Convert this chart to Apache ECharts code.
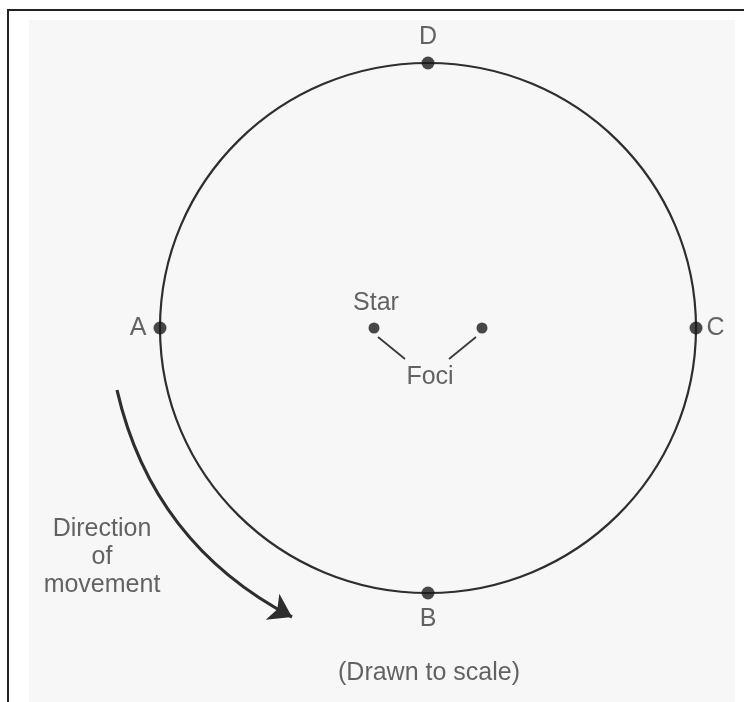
<!DOCTYPE html>
<html>
<head>
<meta charset="utf-8">
<script src="https://cdn.jsdelivr.net/npm/echarts@6/dist/echarts.min.js"></script>
<style>
html,body{margin:0;padding:0;background:#fff;}
#chart{width:744px;height:702px;}
</style>
</head>
<body>
<div id="chart"></div>
<script>
// ---- data (units: drawing units, orbit centre at origin) ----
const orbitCenter = [0, 0];
const orbitSemiAxes = [268, 265];
const pointNames = ['A', 'B', 'C', 'D'];
const pointXY = [[-268, 0], [0, -265], [268, 0], [0, 265]];
const fociXY = [[-54, 0], [54, 0]];
const fociLeaders = [
  [[-50, -9], [-23, -31]],
  [[48, -9], [21, -31]]
];
const arrowPath = [[-311, -62], [-136, -289]];
const textLabels = ['Star', 'Foci', 'Direction\nof\nmovement', '(Drawn to scale)'];
const textXY = [[-52, 25], [2, -49], [-326, -229], [1, -345]];

const labelPos = { A: 'left', B: 'bottom', C: 'right', D: 'top' };
const FONT = "'Liberation Sans', Arial, Helvetica, sans-serif";
const TXT = '#3c3c3c';
const FS = 25;

const chart = echarts.init(document.getElementById('chart'), null, { renderer: 'canvas' });

chart.setOption({
  animation: false,
  backgroundColor: '#ffffff',
  graphic: [
    { type: 'rect', z: -10, shape: { x: 29, y: 20, width: 706, height: 682 }, style: { fill: '#f7f7f7' } },
    { type: 'line', z: -5, shape: { x1: 7, y1: 10, x2: 744, y2: 10 }, style: { stroke: '#222', lineWidth: 2 } },
    { type: 'line', z: -5, shape: { x1: 8, y1: 9, x2: 8, y2: 702 }, style: { stroke: '#222', lineWidth: 2 } }
  ],
  grid: { left: 0, top: 0, width: 744, height: 702, show: false },
  xAxis: { type: 'value', min: -428, max: 316, show: false },
  yAxis: { type: 'value', min: -374, max: 328, show: false },
  series: [
    {
      type: 'custom',
      z: 2,
      data: [[orbitCenter[0], orbitCenter[1], orbitSemiAxes[0], orbitSemiAxes[1]]],
      renderItem: function (params, api) {
        const c = api.coord([api.value(0), api.value(1)]);
        const s = api.size([api.value(2), api.value(3)]);
        return {
          type: 'ellipse',
          shape: { cx: c[0], cy: c[1], rx: s[0], ry: s[1] },
          style: { fill: 'none', stroke: '#2e2e2e', lineWidth: 2.2 }
        };
      }
    },
    {
      type: 'scatter',
      z: 5,
      symbolSize: 13,
      itemStyle: { color: '#1a1a1a' },
      data: pointNames.map((n, i) => ({
        name: n,
        value: pointXY[i],
        label: {
          show: true,
          position: labelPos[n],
          distance: n === 'A' ? 7 : (n === 'C' ? 4 : 7),
          formatter: n,
          fontFamily: FONT,
          fontSize: FS,
          color: TXT
        }
      }))
    },
    {
      type: 'scatter',
      z: 5,
      symbolSize: 11,
      itemStyle: { color: '#1a1a1a' },
      data: fociXY
    },
    {
      type: 'lines',
      coordinateSystem: 'cartesian2d',
      z: 3,
      symbol: 'none',
      lineStyle: { color: '#3a3a3a', width: 1.8, opacity: 1 },
      data: fociLeaders.map(c => ({ coords: c }))
    },
    {
      type: 'lines',
      coordinateSystem: 'cartesian2d',
      z: 3,
      symbol: ['none', 'arrow'],
      symbolSize: [16, 22],
      lineStyle: { color: '#2e2e2e', width: 3.2, opacity: 1, curveness: -0.23 },
      data: [{ coords: arrowPath }]
    },
    {
      type: 'scatter',
      z: 6,
      symbolSize: 0,
      data: textLabels.map((t, i) => ({
        value: textXY[i],
        label: {
          show: true,
          position: 'inside',
          formatter: t,
          fontFamily: FONT,
          fontSize: FS,
          lineHeight: 28,
          align: 'center',
          color: TXT
        }
      }))
    }
  ]
});
</script>
</body>
</html>
